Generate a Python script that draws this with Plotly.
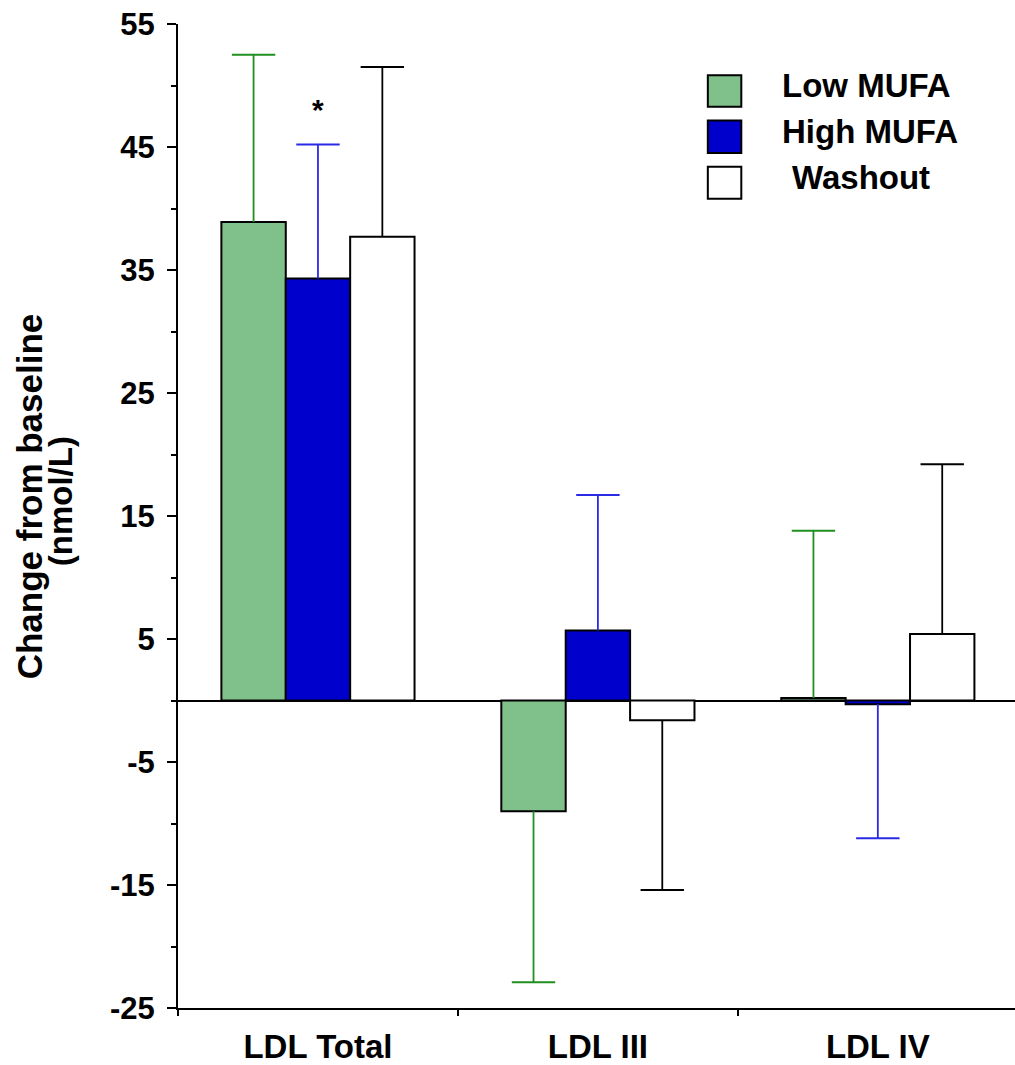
import plotly.graph_objects as go

# Change from baseline (nmol/L) by LDL subfraction and diet phase
categories = ["LDL Total", "LDL III", "LDL IV"]
series_names = ["Low MUFA", "High MUFA", "Washout"]

low_mufa = [38.9, -9.0, 0.2]
high_mufa = [34.3, 5.7, -0.3]
washout = [37.7, -1.6, 5.4]

low_mufa_err = [13.6, 13.9, 13.6]
high_mufa_err = [10.9, 11.0, 10.9]
washout_err = [13.8, 13.8, 13.8]

y_ticks = [55, 45, 35, 25, 15, 5, -5, -15, -25]
y_minor = [50, 40, 30, 20, 10, 0, -10, -20]

FONT = "Liberation Sans, Arial, Helvetica, sans-serif"

fills = ["#80c08a", "#0000cc", "#ffffff"]
err_colors = ["#1f8f1f", "#2a2ae6", "#000000"]
values = [low_mufa, high_mufa, washout]
errors = [low_mufa_err, high_mufa_err, washout_err]

fig = go.Figure()

for name, vals, fill in zip(series_names, values, fills):
    fig.add_trace(go.Bar(
        x=categories, y=vals, name=name, offsetgroup=name,
        marker=dict(color=fill, line=dict(color="black", width=2)),
        showlegend=False,
    ))

# One-sided error bars: a cap marker at the end, whisker running back to the bar
for name, vals, errs, col in zip(series_names, values, errors, err_colors):
    ends = [v + e if v >= 0 else v - e for v, e in zip(vals, errs)]
    up = [0 if v >= 0 else e for v, e in zip(vals, errs)]
    down = [e if v >= 0 else 0 for v, e in zip(vals, errs)]
    fig.add_trace(go.Scatter(
        x=categories, y=ends, mode="markers", offsetgroup=name,
        marker=dict(symbol="line-ew-open", size=31, color=col,
                    line=dict(color=col, width=2)),
        error_y=dict(type="data", symmetric=False, array=up, arrayminus=down,
                     width=0, thickness=1.8, color=col),
        showlegend=False, hoverinfo="skip",
    ))

fig.add_annotation(x="LDL Total", y=48.4, text="*", showarrow=False,
                   font=dict(family=FONT, size=30, color="black", weight="bold"),
                   yanchor="middle", yshift=-4)

# Legend drawn as boxes and labels
legend_boxes = [(0.916, 0.948), (0.869, 0.902), (0.8225, 0.855)]
legend_text_y = [0.937, 0.891, 0.844]
legend_text_x = [0.719, 0.719, 0.731]
for name, fill, (y0, y1), ty, tx in zip(series_names, fills, legend_boxes, legend_text_y, legend_text_x):
    fig.add_shape(type="rect", xref="paper", yref="paper", x0=0.633, x1=0.673, y0=y0, y1=y1,
                  fillcolor=fill, line=dict(color="black", width=2))
    fig.add_annotation(xref="paper", yref="paper", x=tx, y=ty, text=name, showarrow=False,
                       xanchor="left", yanchor="middle",
                       font=dict(family=FONT, size=33, color="black", weight="bold"))

# Two-line axis title
fig.add_annotation(xref="paper", yref="paper", x=-0.178, y=0.52, text="Change from baseline",
                   textangle=-90, showarrow=False, xanchor="center", yanchor="middle",
                   font=dict(family=FONT, size=35, color="black", weight="bold"))
fig.add_annotation(xref="paper", yref="paper", x=-0.141, y=0.515, text="(nmol/L)",
                   textangle=-90, showarrow=False, xanchor="center", yanchor="middle",
                   font=dict(family=FONT, size=33, color="black", weight="bold"))

fig.update_layout(
    width=1015, height=1065,
    margin=dict(l=178, r=0, t=24, b=55),
    paper_bgcolor="white", plot_bgcolor="white",
    barmode="group", bargap=0.31, bargroupgap=0,
    scattermode="group", scattergap=0.31,
    font=dict(family=FONT, color="black"),
)

fig.update_xaxes(
    type="category", range=[-0.5, 2.49], tickson="boundaries",
    showline=True, linecolor="black", linewidth=2,
    ticks="outside", ticklen=6, tickwidth=2, tickcolor="black",
    showgrid=False, zeroline=False, ticklabelstandoff=8,
    tickfont=dict(family=FONT, size=33, color="black", weight="bold"),
)

fig.update_yaxes(
    range=[-25, 55], tickvals=y_ticks, ticktext=[str(t) for t in y_ticks],
    showline=True, linecolor="black", linewidth=2,
    ticks="outside", ticklen=9, tickwidth=2, tickcolor="black",
    minor=dict(tickvals=y_minor, ticks="outside", ticklen=5, tickwidth=2,
               tickcolor="black", showgrid=False),
    showgrid=False, zeroline=True, zerolinecolor="black", zerolinewidth=2,
    ticklabelstandoff=6,
    tickfont=dict(family=FONT, size=31, color="black", weight="bold"),
)

fig.write_html("out.html")
